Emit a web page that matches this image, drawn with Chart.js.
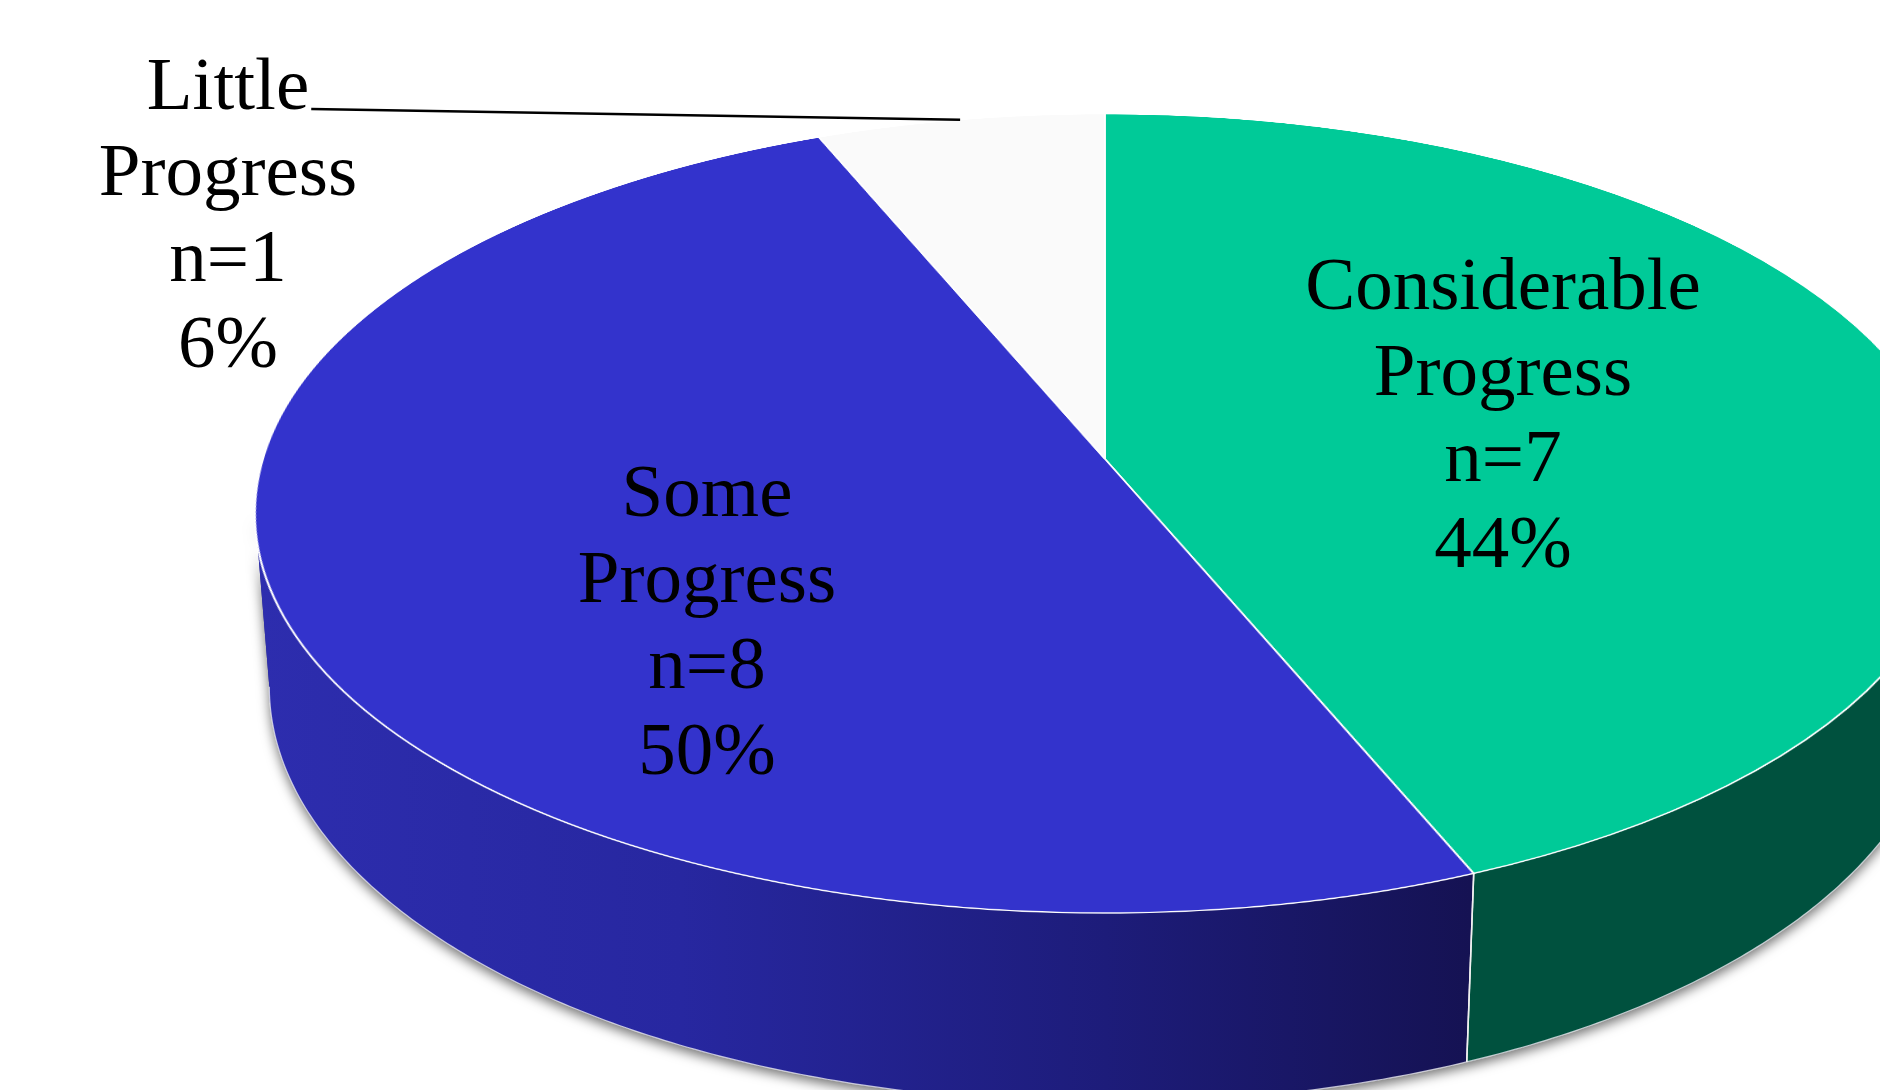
<!DOCTYPE html>
<html lang="en">
<head>
  <meta charset="UTF-8">
  <title>Progress pie</title>
  <script src="https://cdn.jsdelivr.net/npm/chart.js@4.4.1/dist/chart.umd.min.js"></script>
  <style>
    html, body { margin: 0; padding: 0; background: #fff; overflow: hidden; width: 1880px; height: 1090px; }
    canvas { position: absolute; left: 0; top: 0; }
    #pieChart { transform-origin: 0 0; }
  </style>
</head>
<body>
  <canvas id="sideCanvas" width="1880" height="1090"></canvas>
  <canvas id="pieChart" width="1760" height="1760"></canvas>
  <canvas id="labelCanvas" width="1880" height="1090"></canvas>

  <script>
    // Data
    const categories = ['Considerable Progress', 'Some Progress', 'Little Progress'];
    const counts = [7, 8, 1];

    // Styles
    const topColors = ['#00CA98', '#3333CC', '#FAFAFA'];
    const sideColors = ['#00513E', null, '#CCCCCC'];
    const labelAnchors = [[1503, 309], [707, 516], [228, 109]];
    const labelFont = '75px "Liberation Serif", "Times New Roman", serif';
    const lineStep = 86;

    // tilted camera used to lay the flat pie down
    const CAM = { x0: 1105, y0: 459, f: 5462.7, L: 6.4873, cos: 0.88499, sin: 0.46561, depth: 0.2346 };
    const R = 850, C0 = 880;

    function proj(t, h) {
      const u = Math.cos(t), v = Math.sin(t);
      const w = CAM.L + h * CAM.sin - v * CAM.cos;
      return [CAM.x0 + CAM.f * u / w, CAM.y0 + CAM.f * (h * CAM.cos + v * CAM.sin) / w];
    }

    // projective matrix for the chart canvas
    function tiltCanvas(el) {
      const h32 = -CAM.cos / R;
      const h33 = CAM.L + CAM.cos * C0 / R;
      const h11 = CAM.f / R;
      const h12 = CAM.x0 * h32;
      const h13 = CAM.x0 * h33 - CAM.f * C0 / R;
      const h22 = CAM.y0 * h32 + CAM.f * CAM.sin / R;
      const h23 = CAM.y0 * h33 - CAM.f * CAM.sin * C0 / R;
      el.style.transform = `matrix3d(${h11},0,0,0,${h12},${h22},0,${h32},0,0,1,0,${h13},${h23},0,${h33})`;
    }

    function visibleRange(s, e, h) {
      const lim = Math.asin(CAM.cos / (CAM.L + h * CAM.sin));
      return [Math.max(s, lim), Math.min(e, Math.PI - lim)];
    }

    function sidePath(ctx, s, e) {
      const n = 300;
      const [a0, b0] = visibleRange(s, e, 0);
      const [a1, b1] = visibleRange(s, e, CAM.depth);
      ctx.beginPath();
      for (let k = 0; k <= n; k++) {
        const p = proj(a0 + (b0 - a0) * k / n, 0);
        k ? ctx.lineTo(p[0], p[1]) : ctx.moveTo(p[0], p[1]);
      }
      for (let k = n; k >= 0; k--) {
        const p = proj(a1 + (b1 - a1) * k / n, CAM.depth);
        ctx.lineTo(p[0], p[1]);
      }
      ctx.closePath();
    }

    function drawSides(arcs) {
      const ctx = document.getElementById('sideCanvas').getContext('2d');
      ctx.clearRect(0, 0, 1880, 1090);

      // drop shadow under the whole body
      ctx.save();
      ctx.shadowColor = 'rgba(0,0,0,0.55)';
      ctx.shadowBlur = 12;
      ctx.shadowOffsetY = 5;
      sidePath(ctx, 0, Math.PI);
      ctx.fillStyle = '#22228a';
      ctx.fill();
      ctx.restore();

      const blueGrad = ctx.createLinearGradient(255, 0, 1470, 0);
      blueGrad.addColorStop(0, '#2D2DAE');
      blueGrad.addColorStop(0.35, '#2727A0');
      blueGrad.addColorStop(0.7, '#1D1C7A');
      blueGrad.addColorStop(1, '#151253');

      arcs.forEach((arc, i) => {
        const s = arc.startAngle, e = arc.endAngle;
        const [a, b] = visibleRange(s, e, 0);
        if (a >= b) return;
        sidePath(ctx, s, e);
        ctx.fillStyle = i === 1 ? blueGrad : sideColors[i];
        ctx.fill();
      });

      // light bottom rim
      ctx.beginPath();
      const [ra, rb] = visibleRange(0, Math.PI, CAM.depth);
      for (let k = 0; k <= 300; k++) {
        const p = proj(ra + (rb - ra) * k / 300, CAM.depth);
        k ? ctx.lineTo(p[0], p[1]) : ctx.moveTo(p[0], p[1]);
      }
      ctx.strokeStyle = 'rgba(255,255,255,0.7)';
      ctx.lineWidth = 1.2;
      ctx.stroke();

      // vertical seams where slices meet on the visible wall
      arcs.forEach(arc => {
        [arc.startAngle, arc.endAngle].forEach(t => {
          const tt = ((t % (2 * Math.PI)) + 2 * Math.PI) % (2 * Math.PI);
          if (tt > 0.15 && tt < Math.PI - 0.15) {
            const p = proj(tt, 0), q = proj(tt, CAM.depth);
            ctx.beginPath();
            ctx.moveTo(p[0], p[1]);
            ctx.lineTo(q[0], q[1]);
            ctx.strokeStyle = '#F0F0F0';
            ctx.lineWidth = 1.5;
            ctx.stroke();
          }
        });
      });
    }

    function drawLabels(chart, arcs) {
      const ctx = document.getElementById('labelCanvas').getContext('2d');
      ctx.clearRect(0, 0, 1880, 1090);
      const total = counts.reduce((a, b) => a + b, 0);
      ctx.font = labelFont;
      ctx.fillStyle = '#000';
      ctx.textAlign = 'center';
      ctx.textBaseline = 'alphabetic';
      categories.forEach((cat, i) => {
        const lines = cat.split(' ').concat([`n=${counts[i]}`, `${Math.round(counts[i] / total * 100)}%`]);
        const [x, y] = labelAnchors[i];
        lines.forEach((ln, k) => ctx.fillText(ln, x, y + k * lineStep));
      });

      // leader line for the small slice
      const small = 2;
      const mid = (arcs[small].startAngle + arcs[small].endAngle) / 2;
      const end = proj(mid, 0);
      const w = ctx.measureText('Little').width;
      ctx.beginPath();
      ctx.moveTo(labelAnchors[small][0] + w / 2 + 2, labelAnchors[small][1]);
      ctx.lineTo(end[0], end[1]);
      ctx.strokeStyle = '#000';
      ctx.lineWidth = 2.5;
      ctx.stroke();
    }

    const depthPlugin = {
      id: 'depth',
      afterDraw(chart) {
        const arcs = chart.getDatasetMeta(0).data;
        drawSides(arcs);
        drawLabels(chart, arcs);
      }
    };

    const pieEl = document.getElementById('pieChart');
    tiltCanvas(pieEl);

    const chart = new Chart(pieEl.getContext('2d'), {
      type: 'pie',
      data: {
        labels: categories,
        datasets: [{
          data: counts,
          backgroundColor: topColors,
          borderColor: '#FFFFFF',
          borderWidth: 2
        }]
      },
      options: {
        responsive: false,
        animation: false,
        devicePixelRatio: 1,
        radius: R,
        layout: { padding: 0 },
        plugins: {
          legend: { display: false },
          tooltip: { enabled: false }
        }
      },
      plugins: [depthPlugin]
    });
  </script>
</body>
</html>
